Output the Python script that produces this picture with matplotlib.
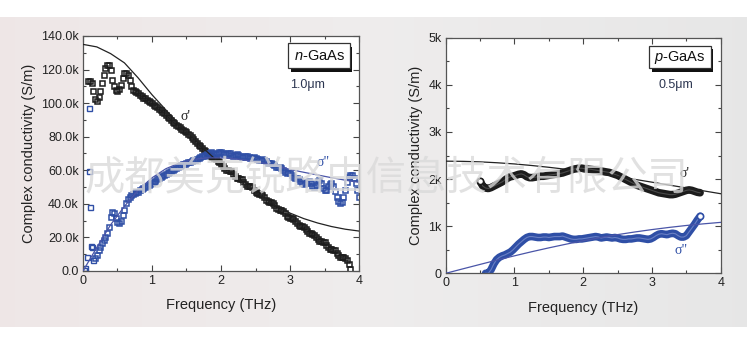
import numpy as np
import matplotlib
matplotlib.use("Agg")
import matplotlib.pyplot as plt
from matplotlib.patches import Rectangle
from matplotlib.ticker import FuncFormatter, MultipleLocator

plt.rcParams['font.family'] = ['Liberation Sans', 'DejaVu Sans']
plt.rcParams['mathtext.fontset'] = 'custom'
plt.rcParams['mathtext.rm'] = 'Liberation Sans'
plt.rcParams['mathtext.it'] = 'Liberation Sans:italic'

# ---------------- n-GaAs (1.0 um), conductivity in kS/m ----------------
n_s1_start, n_s1_stop = 0.075, 3.875
n_sigma1 = [
    113, 113, 112, 107, 102.5, 101.5, 103.5, 107.5,
    112, 117, 121, 122.5, 122.5, 119.5, 114, 110,
    108, 107.5, 108.5, 111, 115, 117.8, 118, 116.5,
    113.5, 110, 108, 107, 106.5, 105.8, 105, 104,
    103.3, 102.8, 102, 101.5, 100.8, 100, 99, 98.5,
    97.7, 96.6, 96, 95, 94, 93, 92, 91,
    90, 89, 88, 87.2, 86.3, 85.5, 84.8, 84,
    83.5, 82.7, 81.8, 80.8, 79.7, 78.6, 77.5, 76.5,
    75.3, 74.3, 73.2, 72.2, 71.2, 70.2, 69.3, 68.4,
    67.8, 67.2, 66.5, 65.6, 64.8,
    64.0, 62.6, 61.2, 60.3, 60.0, 59.8, 59.3, 57.9,
    56.5, 55.6, 55.3, 55.1, 54.6, 53.2, 51.8, 50.9,
    50.6, 50.4, 49.9, 48.5, 47.1, 46.2, 45.9, 45.7,
    45.2, 43.8, 42.4, 41.5, 41.2, 41.0, 40.5, 39.1,
    37.7, 36.8, 36.5, 36.3, 35.8, 34.4, 33.0, 32.1,
    31.8, 31.6, 31.1, 29.7, 28.3, 27.4, 27.1, 26.9,
    26.4, 25.0, 23.6, 22.7, 22.4, 22.2, 21.7, 20.3,
    18.9, 18.0, 17.7, 17.5, 17.0, 15.6, 14.2, 13.3,
    13.0, 12.8, 12.3, 10.9, 9.5, 8.6, 8.3, 8.1,
    7.6, 6.5, 4.0, 1.0,
]

# scattered low-frequency points of sigma''
n_s2_low_freq = [0.01, 0.03, 0.065, 0.085, 0.09, 0.10, 0.12, 0.13, 0.15]
n_s2_low = [0.5, 1.5, 8.5, 96.9, 59.6, 38.3, 14.9, 14.5, 6.6]

n_s2_start, n_s2_stop = 0.175, 4.0
n_sigma2 = [
    7.5, 9.5, 12.5, 14.5, 16.5, 18.5, 20.5, 22.5,
    26, 32, 35.3, 34.5, 31.5, 29.4, 28.4, 30,
    33.5, 36.5, 40.5, 43, 44.3, 45, 45.7, 46.3,
    46.8, 47.3, 48, 48.8, 49.5, 50.1, 50.7, 51.3,
    51.8, 52.4, 53.1, 53.8, 54.6, 55.3, 55.9, 56.5,
    57.1, 57.7, 58.4, 59.1, 59.8, 60.4, 60.9, 61.4,
    62.0, 62.5, 63.0, 63.5, 63.9, 64.3, 64.7, 65.1,
    65.5, 65.9, 66.3, 66.8, 67.3, 67.8, 68.3, 68.8,
    69.3, 69.8, 70.3, 70.6, 70.2, 69.6, 69.8, 70.5,
    71.0, 70.7, 70.0, 69.4, 69.6, 70.2, 70.0, 69.3,
    68.7, 68.9, 69.5, 69.3, 68.6, 68.0, 68.2, 68.7,
    68.5, 67.8, 67.2, 67.3, 67.8, 67.5, 66.8, 66.2,
    66.3, 66.6, 66.2, 65.3, 64.5, 64.4, 64.6, 64.0,
    63.0, 62.0, 61.7, 61.8, 61.2, 60.0, 59.0, 58.6,
    58.8, 58.3, 57.0, 56.0, 55.4, 55.2, 54.8, 53.8,
    52.7, 52.0, 52.2, 53.3, 53.8, 52.5, 50.8, 50.0,
    51.0, 53.5, 54.5, 52.5, 49.5, 48.0, 48.5, 50.5,
    52.0, 52.2, 50.5, 47.5, 44.0, 41.5, 40.3, 41.0,
    44.0, 48.5, 53.0, 56.0, 57.0, 57.2, 55.5, 52.5,
    48.5, 44.0,
]

# Drude fit curves
n_fit_freq = [0.0, 0.2, 0.4, 0.6, 0.8, 1.0, 1.2, 1.4, 1.6, 1.8, 2.0,
              2.2, 2.4, 2.6, 2.8, 3.0, 3.2, 3.4, 3.6, 3.8, 4.0]
n_fit1 = [135, 133.5, 129.5, 124, 115, 105, 96, 87, 79, 71, 63.5,
          56.5, 49.5, 44, 39, 34.5, 31.2, 28.6, 26.5, 24.9, 23.8]
n_fit2 = [0, 14, 27.5, 38.5, 48.2, 55.5, 60.9, 64.4, 66.5, 67.4, 67.4,
          66.8, 65.7, 64.4, 62.8, 60.5, 58.8, 57.2, 55.6, 54.1, 52.8]

# ---------------- p-GaAs (0.5 um), conductivity in kS/m ----------------
p_s1_start, p_s1_stop = 0.50, 3.70
p_sigma1 = [
    1.95, 1.85, 1.81, 1.80, 1.82, 1.85, 1.88, 1.91,
    1.94, 1.98, 2.02, 2.05, 2.06, 2.08, 2.10, 2.11,
    2.09, 2.05, 2.03, 2.03, 2.04, 2.05, 2.06, 2.06,
    2.07, 2.08, 2.09, 2.10, 2.11, 2.12, 2.13, 2.15,
    2.17, 2.19, 2.21, 2.22, 2.23, 2.23, 2.22, 2.22,
    2.21, 2.20, 2.19, 2.18, 2.17, 2.16, 2.15, 2.14,
    2.12, 2.10, 2.08, 2.05, 2.02, 1.99, 1.96, 1.93,
    1.90, 1.87, 1.85, 1.83, 1.81, 1.79, 1.77, 1.75,
    1.73, 1.71, 1.70, 1.69, 1.68, 1.67, 1.67, 1.68,
    1.70, 1.72, 1.74, 1.76, 1.77, 1.76, 1.74, 1.72,
    1.71,
]
p_s2_start, p_s2_stop = 0.58, 3.70
p_sigma2 = [
    0.0, 0.0, 0.08, 0.20, 0.29, 0.34, 0.37, 0.39,
    0.42, 0.45, 0.50, 0.56, 0.62, 0.67, 0.72, 0.76,
    0.78, 0.78, 0.77, 0.76, 0.76, 0.77, 0.77, 0.76,
    0.77, 0.78, 0.78, 0.78, 0.79, 0.77, 0.75, 0.73,
    0.72, 0.72, 0.73, 0.73, 0.74, 0.75, 0.76, 0.77,
    0.78, 0.77, 0.75, 0.76, 0.77, 0.76, 0.75, 0.76,
    0.75, 0.73, 0.72, 0.72, 0.73, 0.73, 0.74, 0.75,
    0.75, 0.74, 0.73, 0.72, 0.73, 0.76, 0.80, 0.83,
    0.84, 0.83, 0.82, 0.84, 0.85, 0.84, 0.80, 0.77,
    0.77, 0.80, 0.88, 0.96, 1.04, 1.13, 1.21,
]
p_fit_freq = [0.0, 0.25, 0.5, 0.75, 1.0, 1.25, 1.5, 1.75, 2.0,
              2.25, 2.5, 2.75, 3.0, 3.25, 3.5, 3.75, 4.0]
p_fit1 = [2.380, 2.376, 2.365, 2.346, 2.321, 2.288, 2.250, 2.207, 2.159,
          2.107, 2.052, 1.994, 1.934, 1.873, 1.812, 1.750, 1.689]
p_fit2 = [0.0, 0.095, 0.189, 0.282, 0.371, 0.458, 0.540, 0.618, 0.691,
          0.758, 0.821, 0.877, 0.928, 0.974, 1.015, 1.050, 1.081]

watermark = "成都美克锐路由信息技术有限公司"

BLACK = '#1c1c1c'
BLUE = '#2f4fa6'
FITBLUE = '#4a55a8'

W, H = 747, 345
fig = plt.figure(figsize=(W / 100, H / 100), dpi=100)
fig.patch.set_facecolor('white')

# backdrop band
bg = fig.add_axes([0, 0, 1, 1], zorder=-10)
bg.set_xlim(0, W)
bg.set_ylim(H, 0)
bg.axis('off')
t = np.linspace(0, 1, 300)
left_c = np.array([0.935, 0.905, 0.905])
mid_c = np.array([0.935, 0.928, 0.928])
right_c = np.array([0.905, 0.905, 0.905])
grad = np.where(t[:, None] < 0.5,
                left_c + (mid_c - left_c) * (t[:, None] / 0.5),
                mid_c + (right_c - mid_c) * ((t[:, None] - 0.5) / 0.5))
bg.imshow(grad[None, :, :], extent=(0, W, 327, 17), aspect='auto')


def style_axes(ax, ymax, ymajor, yminor, fmt):
    ax.set_xlim(0, 4)
    ax.set_ylim(0, ymax)
    ax.xaxis.set_major_locator(MultipleLocator(1))
    ax.xaxis.set_minor_locator(MultipleLocator(0.5))
    ax.yaxis.set_major_locator(MultipleLocator(ymajor))
    ax.yaxis.set_minor_locator(MultipleLocator(yminor))
    ax.yaxis.set_major_formatter(FuncFormatter(fmt))
    ax.tick_params(which='both', direction='in', top=True, right=True,
                   colors='#444444', labelcolor='#222222', labelsize=9, width=0.8)
    ax.tick_params(which='major', length=4, pad=3)
    ax.tick_params(which='minor', length=2)
    for s in ax.spines.values():
        s.set_color('#555555')
        s.set_linewidth(0.9)
    ax.set_xlabel('Frequency (THz)', fontsize=10.5, color='#222222', labelpad=8)
    ax.set_ylabel('Complex conductivity (S/m)', fontsize=10.5, color='#222222', labelpad=4)


def label_box(ax, x0, y0, w, h, text):
    ax.add_patch(Rectangle((x0 + 0.009, y0 - 0.014), w, h, transform=ax.transAxes,
                           facecolor='#111111', edgecolor='none', zorder=5))
    ax.add_patch(Rectangle((x0, y0), w, h, transform=ax.transAxes,
                           facecolor='white', edgecolor='#333333', linewidth=0.9, zorder=6))
    ax.text(x0 + w / 2, y0 + h / 2, text, transform=ax.transAxes, ha='center', va='center',
            fontsize=10.5, color='#111111', zorder=7)


# ---- left panel ----
axL = fig.add_axes([0.1111, 0.2145, 0.3695, 0.6812])
style_axes(axL, 140, 20, 10, lambda v, p: '0.0' if v == 0 else f'{v:.1f}k')

fL1 = np.linspace(n_s1_start, n_s1_stop, len(n_sigma1))
fL2 = np.linspace(n_s2_start, n_s2_stop, len(n_sigma2))
axL.plot(n_fit_freq, n_fit1, color='#222222', lw=0.9, zorder=3)
axL.plot(fL1, n_sigma1, ls='none', marker='s', ms=3.6, mfc='none', mec=BLACK, mew=1.1, zorder=2)
axL.plot(n_s2_low_freq, n_s2_low, ls='none', marker='s', ms=3.6, mfc='none', mec=BLUE, mew=1.0, zorder=2)
axL.plot(fL2, n_sigma2, ls='none', marker='s', ms=3.6, mfc='none', mec=BLUE, mew=1.1, zorder=2)
axL.plot(n_fit_freq, n_fit2, color=FITBLUE, lw=0.9, zorder=3)
label_box(axL, 0.744, 0.862, 0.223, 0.107, r'$n$-GaAs')
axL.text(0.75, 0.79, '1.0μm', transform=axL.transAxes, fontsize=9, color='#2b3550',
         ha='left', va='center')
axL.text(1.48, 92, "σ'", fontsize=10, color='#222222', family='Liberation Serif',
         ha='center', va='center')
axL.text(3.48, 64.5, 'σ"', fontsize=10, color=BLUE, family='Liberation Serif',
         ha='center', va='center')

# ---- right panel ----
axR = fig.add_axes([0.5967, 0.2078, 0.3681, 0.6829])
style_axes(axR, 5, 1, 0.5, lambda v, p: '0' if v == 0 else f'{v:.0f}k')

fR1 = np.linspace(p_s1_start, p_s1_stop, len(p_sigma1))
fR2 = np.linspace(p_s2_start, p_s2_stop, len(p_sigma2))
axR.plot(p_fit_freq, p_fit1, color='#222222', lw=0.9, zorder=3)
# dense measured points drawn as a band with a faint hollow core
axR.plot(fR1, p_sigma1, color=BLACK, lw=5.5, solid_capstyle='round', solid_joinstyle='round', zorder=2)
axR.plot(fR1, p_sigma1, color='#4a4a4a', lw=0.8, zorder=2.1)
axR.plot(p_fit_freq, p_fit2, color=FITBLUE, lw=0.9, zorder=3)
axR.plot(fR2, p_sigma2, color=BLUE, lw=5.5, solid_capstyle='round', solid_joinstyle='round', zorder=2)
axR.plot(fR2, p_sigma2, color='#6a80c4', lw=0.8, zorder=2.1)
axR.plot(fR1[0], p_sigma1[0], ls='none', marker='o', ms=4.5, mfc='white', mec=BLACK, mew=1.2, zorder=2.2)
axR.plot(fR2[-1], p_sigma2[-1], ls='none', marker='o', ms=4.5, mfc='white', mec=BLUE, mew=1.2, zorder=2.2)
label_box(axR, 0.740, 0.870, 0.224, 0.096, r'$p$-GaAs')
axR.text(0.773, 0.80, '0.5μm', transform=axR.transAxes, fontsize=9, color='#2b3550',
         ha='left', va='center')
axR.text(3.48, 2.12, "σ'", fontsize=10, color='#222222', family='Liberation Serif',
         ha='center', va='center')
axR.text(3.43, 0.49, 'σ"', fontsize=10, color=BLUE, family='Liberation Serif',
         ha='center', va='center')

# watermark across both panels
fig.text(386 / W, 1 - 178 / H, watermark, fontsize=29,
         family=['Noto Sans CJK SC', 'DejaVu Sans'], fontweight='light',
         color='#dadada', alpha=0.8, ha='center', va='center', zorder=20)

fig.savefig('out.png', dpi=100, facecolor='white')
